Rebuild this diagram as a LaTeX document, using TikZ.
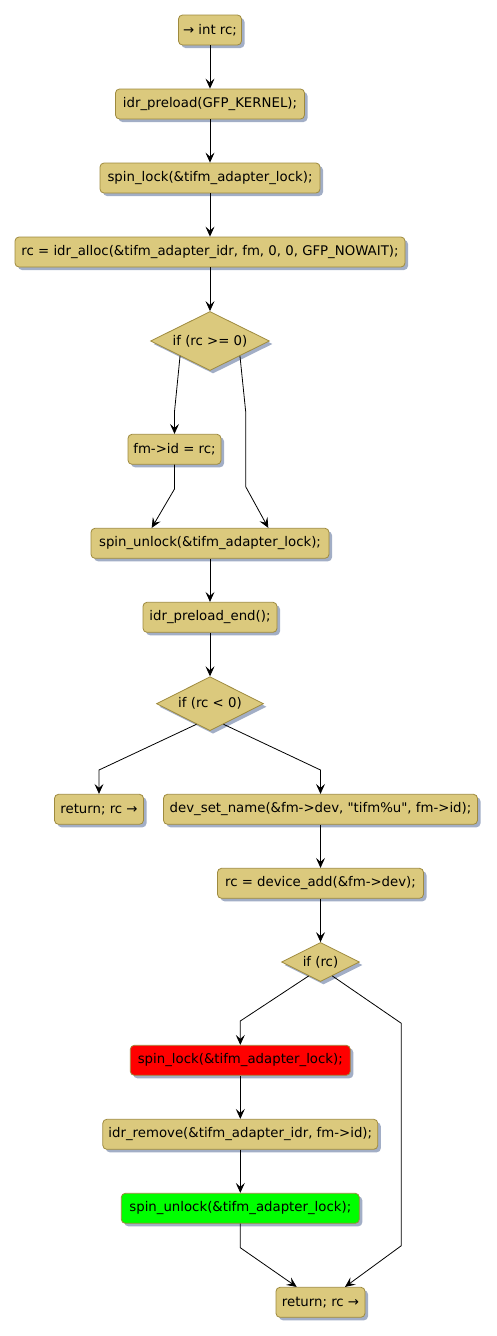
\documentclass[tikz,border=0pt]{standalone}
\usepackage{fontspec}
\setmainfont{DejaVu Sans}
\usetikzlibrary{shapes.geometric,arrows.meta,shadows,calc}
\definecolor{boxfill}{HTML}{DBC97D}
\definecolor{boxline}{HTML}{9E8A3E}
\definecolor{shadowc}{HTML}{A2AEC6}
\definecolor{redfill}{HTML}{FF0000}
\definecolor{greenfill}{HTML}{00FF00}
\begin{document}
\begin{tikzpicture}[x=1pt,y=-1pt,
  stepbox/.style={draw=boxline, fill=boxfill, rounded corners=4pt, minimum height=30pt,
    inner xsep=2pt, inner ysep=0pt, font=\fontsize{13.3}{15}\selectfont, line width=0.8pt,
    drop shadow={shadow xshift=3pt, shadow yshift=-3pt, fill=shadowc, opacity=1}},
  decision/.style={diamond, draw=boxline, fill=boxfill, inner sep=0pt,
    font=\fontsize{13.3}{15}\selectfont, line width=0.8pt,
    drop shadow={shadow xshift=3pt, shadow yshift=-3pt, fill=shadowc, opacity=1}},
  flow/.style={-{Stealth[length=10pt,width=9pt,inset=4pt]}, line width=0.8pt}]
\useasboundingbox (0,0) rectangle (496,1336);

\node[stepbox, minimum width=63pt] (n1) at (210,30) {→ int rc;};
\node[stepbox, minimum width=189pt] (n2) at (210,104) {idr\_preload(GFP\_KERNEL);};
\node[stepbox, minimum width=220pt] (n3) at (210,178) {spin\_lock(\&tifm\_adapter\_lock);};
\node[stepbox, minimum width=390pt] (n4) at (210,252) {rc = idr\_alloc(\&tifm\_adapter\_idr, fm, 0, 0, GFP\_NOWAIT);};
\node[decision, aspect=2.02, minimum width=119pt, minimum height=59pt] (d1) at (210,341) {if (rc >= 0)};
\node[stepbox, minimum width=93pt] (n6) at (174.5,449.3) {fm->id = rc;};
\node[stepbox, minimum width=238pt] (n7) at (210,543.3) {spin\_unlock(\&tifm\_adapter\_lock);};
\node[stepbox, minimum width=134pt] (n8) at (210,617.3) {idr\_preload\_end();};
\node[decision, aspect=1.98, minimum width=107pt, minimum height=54pt] (d2) at (210,703.7) {if (rc < 0)};
\node[stepbox, minimum width=89pt] (n10) at (99,809.3) {return; rc →};
\node[stepbox, minimum width=314pt] (n11) at (320.5,809.3) {dev\_set\_name(\&fm->dev, \textquotedbl tifm\%u\textquotedbl, fm->id);};
\node[stepbox, minimum width=206pt] (n12) at (320.5,883.3) {rc = device\_add(\&fm->dev);};
\node[decision, aspect=2, minimum width=78pt, minimum height=39pt] (d3) at (320.5,962) {if (rc)};
\node[stepbox, minimum width=220pt, fill=redfill] (n14) at (240.3,1060.3) {spin\_lock(\&tifm\_adapter\_lock);};
\node[stepbox, minimum width=275pt] (n15) at (240.3,1134.3) {idr\_remove(\&tifm\_adapter\_idr, fm->id);};
\node[stepbox, minimum width=238pt, fill=greenfill] (n16) at (240.3,1208.3) {spin\_unlock(\&tifm\_adapter\_lock);};
\node[stepbox, minimum width=89pt] (n17) at (320.5,1302.3) {return; rc →};

\coordinate (e1) at (268.3,0);
\coordinate (e2) at (151.7,0);
\coordinate (e3) at (345,0);
\coordinate (e4) at (296.7,0);

\draw[flow] (n1) -- (n2);
\draw[flow] (n2) -- (n3);
\draw[flow] (n3) -- (n4);
\draw[flow] (n4) -- (d1);
\draw[flow] (d1.south west) -- (174.5,411.7) -- (n6.north);
\draw[flow] (d1.south east) -- (245.7,411.7) -- (245.7,486.7) -- (e1 |- n7.north);
\draw[flow] (n6.south) -- (174.5,489) -- (e2 |- n7.north);
\draw[flow] (n7) -- (n8);
\draw[flow] (n8) -- (d2);
\draw[flow] ($(d2.south)!0.25!(d2.west)$) -- (99,770) -- (n10.north);
\draw[flow] ($(d2.south)!0.25!(d2.east)$) -- (320.5,770) -- (n11.north);
\draw[flow] (n11) -- (n12);
\draw[flow] (n12) -- (d3);
\draw[flow] ($(d3.south)!0.3!(d3.west)$) -- (240.3,1021) -- (n14.north);
\draw[flow] ($(d3.south)!0.3!(d3.east)$) -- (401.3,1023.3) -- (401.3,1245.7) -- (e3 |- n17.north);
\draw[flow] (n14) -- (n15);
\draw[flow] (n15) -- (n16);
\draw[flow] (n16.south) -- (240.3,1247.7) -- (e4 |- n17.north);
\end{tikzpicture}
\end{document}
